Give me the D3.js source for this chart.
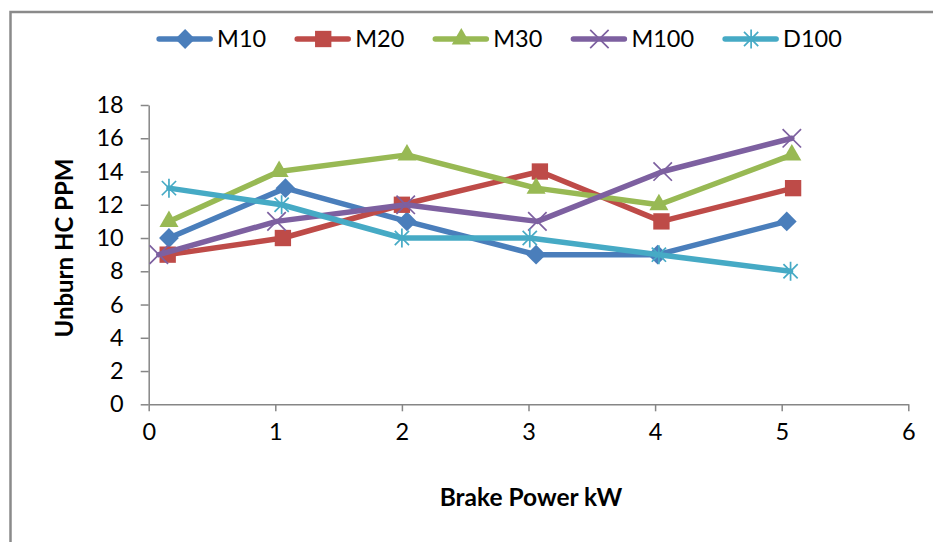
<!DOCTYPE html>
<html>
<head>
<meta charset="utf-8">
<script src="https://cdn.jsdelivr.net/npm/d3@7"></script>
<style>
  body { margin: 0; background: #fff; }
  text { font-family: Lato, "Open Sans", sans-serif; fill: #000; }
</style>
</head>
<body>
<svg id="chart" width="933" height="542"></svg>
<script>
// values
var seriesNames = ["M10", "M20", "M30", "M100", "D100"];
var colors = ["#4a7ebb", "#be4b48", "#98b954", "#7d60a0", "#46aac5"];
var shapes = ["diamond", "square", "triangle", "times", "star"];

var xM10 = [0.16, 1.08, 2.04, 3.06, 4.02, 5.04];
var yM10 = [10, 13, 11, 9, 9, 11];
var xM20 = [0.15, 1.06, 2.00, 3.09, 4.05, 5.09];
var yM20 = [9, 10, 12, 14, 11, 13];
var xM30 = [0.16, 1.03, 2.04, 3.06, 4.03, 5.08];
var yM30 = [11, 14, 15, 13, 12, 15];
var xM100 = [0.08, 1.01, 2.03, 3.07, 4.06, 5.08];
var yM100 = [9, 11, 12, 11, 14, 16];
var xD100 = [0.16, 1.05, 2.00, 3.01, 4.03, 5.07];
var yD100 = [13, 12, 10, 10, 9, 8];

var xTicks = [0, 1, 2, 3, 4, 5, 6];
var yTicks = [0, 2, 4, 6, 8, 10, 12, 14, 16, 18];
var xTitle = "Brake Power kW";
var yTitle = "Unburn HC PPM";

var xs = [xM10, xM20, xM30, xM100, xD100];
var ys = [yM10, yM20, yM30, yM100, yD100];
var series = seriesNames.map(function(name, i) {
  return {
    name: name,
    color: colors[i],
    shape: shapes[i],
    points: xs[i].map(function(x, j) { return [x, ys[i][j]]; })
  };
});

var svg = d3.select("#chart");

// outer chart frame (only left and top edges show)
svg.append("rect")
  .attr("x", 10.5).attr("y", 12)
  .attr("width", 960).attr("height", 600)
  .attr("fill", "none")
  .attr("stroke", "#8a8a8a")
  .attr("stroke-width", 2.5);

var x = d3.scaleLinear().domain([0, 6]).range([148.7, 908.3]);
var y = d3.scaleLinear().domain([0, 18]).range([404.3, 105]);

var yAxis = svg.append("g")
  .attr("transform", "translate(" + x(0) + ",0)")
  .call(d3.axisLeft(y).tickValues(yTicks).tickFormat(d3.format("d"))
    .tickSize(8).tickPadding(17).tickSizeOuter(0));
var xAxis = svg.append("g")
  .attr("transform", "translate(0," + y(0) + ")")
  .call(d3.axisBottom(x).tickValues(xTicks).tickFormat(d3.format("d"))
    .tickSize(7).tickPadding(12).tickSizeOuter(0));

[xAxis, yAxis].forEach(function(a) {
  a.selectAll("path, line").attr("stroke", "#868686").attr("stroke-width", 1.5);
  a.selectAll("text")
    .style("font-family", "Lato, sans-serif")
    .style("font-size", "23.5px")
    .attr("fill", "#000");
});

svg.append("text")
  .attr("x", 531).attr("y", 506)
  .attr("text-anchor", "middle")
  .style("font-size", "24.5px")
  .style("font-weight", "bold")
  .text(xTitle);

svg.append("text")
  .attr("transform", "translate(73,248) rotate(-90)")
  .attr("text-anchor", "middle")
  .style("font-size", "24px")
  .style("font-weight", "bold")
  .text(yTitle);

// excel style star marker: vertical bar plus an X
var starSymbol = {
  draw: function(ctx, size) {
    var r = Math.sqrt(size) * 0.6;
    var d = r * 0.75;
    ctx.moveTo(0, -r); ctx.lineTo(0, r);
    ctx.moveTo(-d, -d); ctx.lineTo(d, d);
    ctx.moveTo(-d, d); ctx.lineTo(d, -d);
  }
};
var timesSymbol = {
  draw: function(ctx, size) {
    var r = Math.sqrt(size) * 0.45;
    ctx.moveTo(-r, -r); ctx.lineTo(r, r);
    ctx.moveTo(-r, r); ctx.lineTo(r, -r);
  }
};

function drawMarker(g, s) {
  if (s.shape === "diamond") {
    g.append("path").attr("d", d3.symbol(d3.symbolDiamond2, 250)()).attr("fill", s.color);
  } else if (s.shape === "square") {
    g.append("path").attr("d", d3.symbol(d3.symbolSquare2, 340)()).attr("fill", s.color);
  } else if (s.shape === "triangle") {
    g.append("path").attr("d", d3.symbol(d3.symbolTriangle2, 260)()).attr("fill", s.color);
  } else if (s.shape === "times") {
    g.append("path").attr("d", d3.symbol(timesSymbol, 420)())
      .attr("fill", "none").attr("stroke", s.color).attr("stroke-width", 1.7);
  } else {
    g.append("path").attr("d", d3.symbol(starSymbol, 250)())
      .attr("fill", "none").attr("stroke", s.color).attr("stroke-width", 1.7);
  }
}

var line = d3.line()
  .x(function(d) { return x(d[0]); })
  .y(function(d) { return y(d[1]); });

series.forEach(function(s) {
  var g = svg.append("g");
  g.append("path")
    .attr("d", line(s.points))
    .attr("fill", "none")
    .attr("stroke", s.color)
    .attr("stroke-width", 5.5)
    .attr("stroke-linejoin", "round")
    .attr("stroke-linecap", "round");
  g.selectAll(".pt")
    .data(s.points)
    .enter().append("g")
    .attr("class", "pt")
    .attr("transform", function(d) { return "translate(" + x(d[0]) + "," + y(d[1]) + ")"; })
    .each(function() { drawMarker(d3.select(this), s); });
});

// legend, laid out from measured text widths and centred
var legend = svg.append("g");
var cursor = 0;
series.forEach(function(s) {
  var item = legend.append("g").attr("transform", "translate(" + cursor + ",0)");
  item.append("line")
    .attr("x1", 2).attr("x2", 53).attr("y1", 39).attr("y2", 39)
    .attr("stroke", s.color).attr("stroke-width", 5.5)
    .attr("stroke-linecap", "round");
  var m = item.append("g").attr("transform", "translate(28,39)");
  drawMarker(m, s);
  var t = item.append("text")
    .attr("x", 60).attr("y", 47)
    .style("font-size", "23.5px")
    .text(s.name);
  cursor += 60 + t.node().getComputedTextLength() + 29;
});
var legendWidth = cursor - 29;
legend.attr("transform", "translate(" + (499.5 - legendWidth / 2) + ",0)");
</script>
</body>
</html>
